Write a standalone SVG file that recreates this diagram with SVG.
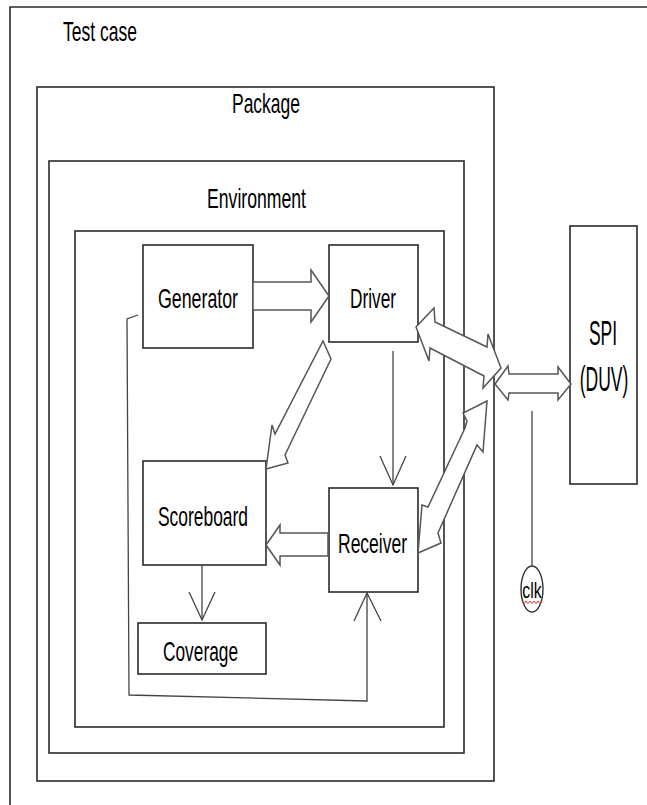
<svg xmlns="http://www.w3.org/2000/svg" width="647" height="805" viewBox="0 0 647 805">
<style>
.box{fill:none;stroke:#2a2a2a;stroke-width:1.6}
.node{fill:#fff;stroke:#2a2a2a;stroke-width:1.6}
.lbl{font-family:"Liberation Sans",Arial,sans-serif;font-size:28px;fill:#000}
.blk{fill:#fff;stroke:#555;stroke-width:1.5;stroke-linejoin:miter}
.ln{fill:none;stroke:#444;stroke-width:1.3}
</style>
<rect width="647" height="805" fill="#fff"/>
<g id="testcase">
<polyline class="box" points="10,805 10,7 647,7"/>
<text class="lbl" x="63" y="41" textLength="74" lengthAdjust="spacingAndGlyphs">Test case</text>
</g>
<g id="package">
<rect class="box" x="37" y="87" width="457" height="694"/>
<text class="lbl" x="232" y="113" textLength="68" lengthAdjust="spacingAndGlyphs">Package</text>
</g>
<g id="environment">
<rect class="box" x="49" y="161" width="415" height="592"/>
<text class="lbl" x="207" y="208" textLength="99" lengthAdjust="spacingAndGlyphs">Environment</text>
</g>
<g id="env-body">
<rect class="box" x="75" y="231" width="369" height="496"/>
</g>
<g id="generator">
<rect class="node" x="143" y="245" width="110" height="103"/>
<text class="lbl" x="158" y="308" textLength="80" lengthAdjust="spacingAndGlyphs">Generator</text>
</g>
<g id="driver">
<rect class="node" x="329" y="245" width="89" height="97"/>
<text class="lbl" x="350" y="308" textLength="46" lengthAdjust="spacingAndGlyphs">Driver</text>
</g>
<g id="scoreboard">
<rect class="node" x="143" y="461" width="123" height="104"/>
<text class="lbl" x="158" y="526" textLength="90" lengthAdjust="spacingAndGlyphs">Scoreboard</text>
</g>
<g id="receiver">
<rect class="node" x="329" y="488" width="89" height="104"/>
<text class="lbl" x="338" y="553" textLength="69" lengthAdjust="spacingAndGlyphs">Receiver</text>
</g>
<g id="coverage">
<rect class="node" x="138" y="623" width="128" height="51"/>
<text class="lbl" x="163" y="661" textLength="75" lengthAdjust="spacingAndGlyphs">Coverage</text>
</g>
<g id="spi">
<rect class="node" x="570" y="226" width="67" height="258"/>
<text class="lbl" transform="translate(603,345) scale(0.5,1)" text-anchor="middle" style="font-size:35px">SPI</text>
<text class="lbl" transform="translate(604,391) scale(0.5,1)" text-anchor="middle" style="font-size:35px">(DUV)</text>
</g>
<g id="clk">
<ellipse cx="532" cy="589" rx="11" ry="23" fill="#fff" stroke="#333" stroke-width="1.4"/>
<text class="lbl" transform="translate(532,598) scale(0.72,1)" text-anchor="middle" style="font-size:22px">clk</text>
<polyline points="522,601 524,603.5 526,601 528,603.5 530,601 532,603.5 534,601 536,603.5 538,601 540,603.5 542,601" fill="none" stroke="#e33" stroke-width="1"/>
</g>
<g id="connectors">
<polygon class="blk" points="253,282 311,282 311,270 329,296 311,322 311,310 253,310"/>
<polygon class="blk" points="416,327 434,308 435,322 487,347 488,334 501,368 483,388 484,376 430,348 429,361"/>
<polygon class="blk" points="495,384 508,366 509,374 558,374 558,367 571,384 558,400 558,393 509,393 508,400"/>
<polygon class="blk" points="487,401 463,413 467,421 465,428 428,507 422,505 418,553 441,543 438,533 477,445 483,452"/>
<polygon class="blk" points="323,341 331,359 285,455 288,463 266,469 272,425 275,434"/>
<polygon class="blk" points="328,533 280,533 280,525 266,545 280,565 280,556 328,556"/>
<line class="ln" x1="393" y1="351" x2="393" y2="485"/>
<polyline class="ln" points="380,456 393,485 406,456"/>
<line class="ln" x1="202" y1="565" x2="202" y2="620"/>
<polyline class="ln" points="189,592 202,620 215,592"/>
<polyline class="ln" points="138,315 127,319 129,695 367,701 367,593"/>
<polyline class="ln" points="354,621 367,593 381,621"/>
<line class="ln" x1="532" y1="411" x2="532" y2="566"/>
</g>
</svg>
